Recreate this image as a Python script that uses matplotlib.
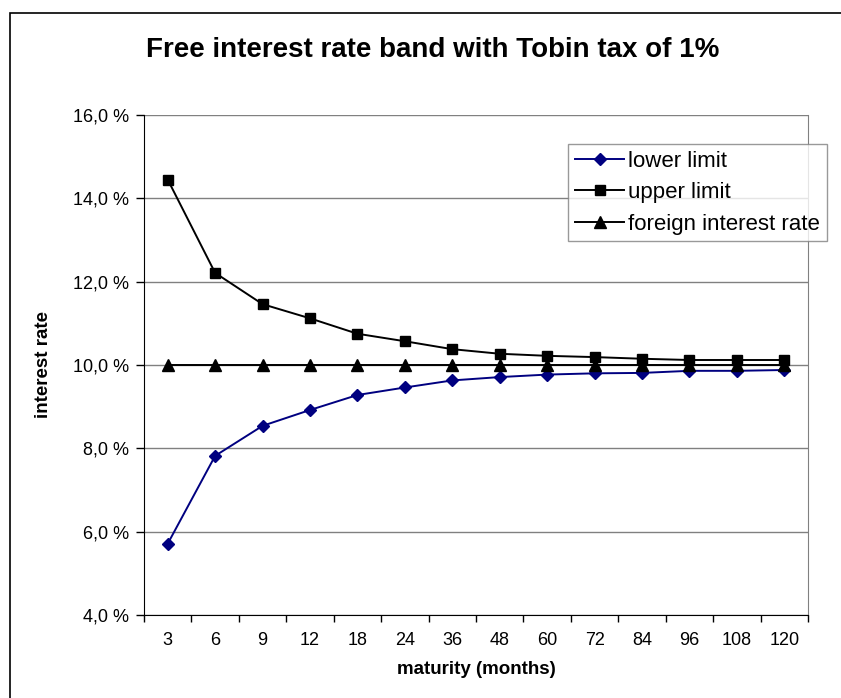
import matplotlib
matplotlib.use("Agg")
import matplotlib.pyplot as plt
from matplotlib.patches import Rectangle
from matplotlib.ticker import FuncFormatter

# data
maturity = ["3", "6", "9", "12", "18", "24", "36", "48", "60", "72", "84", "96", "108", "120"]
lower_limit = [5.71, 7.82, 8.54, 8.92, 9.28, 9.46, 9.63, 9.71, 9.77, 9.80, 9.81, 9.86, 9.86, 9.88]
upper_limit = [14.45, 12.21, 11.46, 11.12, 10.75, 10.57, 10.38, 10.27, 10.22, 10.19, 10.15, 10.12, 10.12, 10.12]
foreign_rate = [10.0] * len(maturity)

plt.rcParams['font.family'] = ['Liberation Sans', 'DejaVu Sans']

fig = plt.figure(figsize=(8.41, 6.98), dpi=100)
ax = fig.add_axes([144 / 841, 1 - 615 / 698, 664 / 841, 500 / 698])

x = range(len(maturity))
ax.plot(x, lower_limit, color='#000080', lw=1.4, marker='D', ms=6.5, label='lower limit')
ax.plot(x, upper_limit, color='black', lw=1.4, marker='s', ms=7.5, label='upper limit')
ax.plot(x, foreign_rate, color='black', lw=1.4, marker='^', ms=8, label='foreign interest rate')

ax.set_xlim(-0.5, len(maturity) - 0.5)
ax.set_ylim(4, 16)
ax.set_yticks([4, 6, 8, 10, 12, 14, 16])
ax.yaxis.set_major_formatter(FuncFormatter(lambda v, p: f"{v:.1f} %".replace('.', ',')))
ax.yaxis.grid(True, color='#808080', lw=1)
ax.set_axisbelow(True)

# category ticks between categories, labels in the middle
ax.set_xticks([i - 0.5 for i in range(len(maturity) + 1)])
ax.set_xticklabels([])
ax.set_xticks(list(x), minor=True)
ax.set_xticklabels(maturity, minor=True)
ax.tick_params(axis='x', which='major', direction='out', length=5, width=1, color='black')
ax.tick_params(axis='x', which='minor', length=0, pad=12, labelsize=13)
ax.tick_params(axis='y', direction='out', length=6, width=1, labelsize=13, pad=5)

for s in ['left', 'bottom']:
    ax.spines[s].set_color('black')
ax.spines['right'].set_color('#808080')
ax.spines['top'].set_visible(False)

ax.set_xlabel('maturity (months)', fontsize=13.5, fontweight='bold', labelpad=9)
ax.set_ylabel('interest rate', fontsize=13.5, fontweight='bold')
ax.yaxis.set_label_coords(-0.1386, 0.5)

fig.text(433 / 841, 1 - 50 / 698, 'Free interest rate band with Tobin tax of 1%',
         fontsize=20, fontweight='bold', ha='center', va='center')

leg = fig.legend(loc='upper right', bbox_to_anchor=(827 / 841, 1 - 144 / 698),
                 fontsize=16, frameon=True, fancybox=False, borderaxespad=0,
                 handlelength=2.2, handletextpad=0.2, labelspacing=0.47,
                 borderpad=0.3)
leg.get_frame().set_edgecolor('#808080')
leg.get_frame().set_linewidth(1)

# chart area frame
fig.patches.append(Rectangle((10 / 841, -0.1), 1.2, 1 - 13 / 698 + 0.1,
                             transform=fig.transFigure, fill=False,
                             edgecolor='black', lw=1.2))

plt.savefig('out.png', dpi=100)
